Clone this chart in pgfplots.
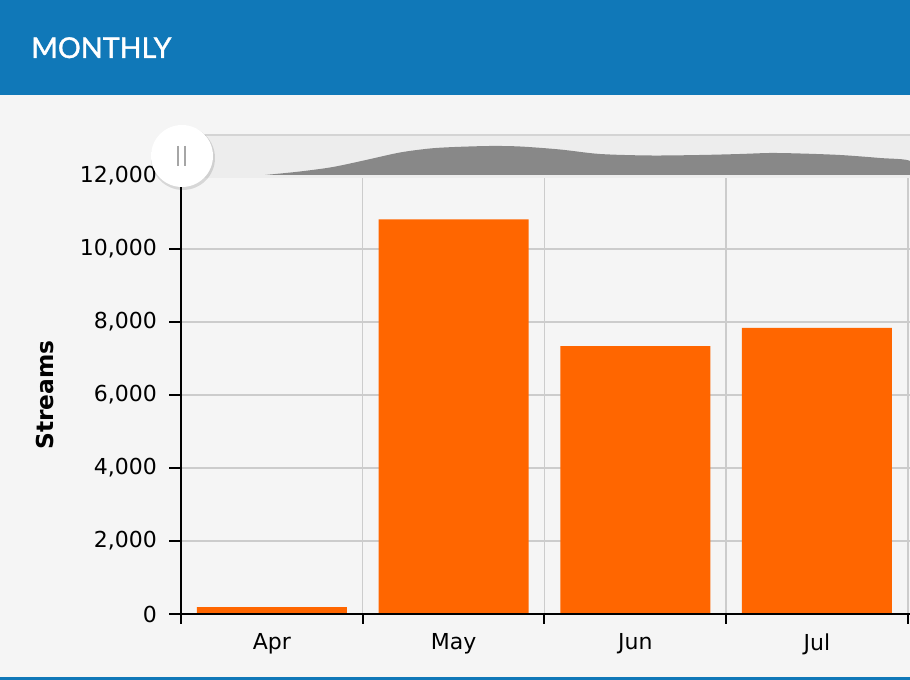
\documentclass[border=0pt]{standalone}
\usepackage{fontspec}
\setmainfont{DejaVu Sans}
\newfontfamily\headfont[FakeBold=1.2]{Lato}
\usepackage{pgfplots}
\pgfplotsset{compat=1.18}
\definecolor{hdr}{HTML}{1078B8}
\definecolor{bgc}{HTML}{F5F5F5}
\definecolor{barc}{HTML}{FF6600}
\definecolor{gridc}{HTML}{CCCCCC}
\definecolor{navc}{HTML}{888888}
\definecolor{navbg}{HTML}{EDEDED}
\definecolor{navline}{HTML}{D4D4D4}
\begin{document}
\begin{tikzpicture}
\useasboundingbox (0,0) rectangle (682.5pt,510pt);
\fill[bgc] (0,0) rectangle (682.5pt,510pt);
\fill[hdr] (0,438.75pt) rectangle (682.5pt,510pt);
\fill[hdr] (0,0) rectangle (682.5pt,2.25pt);
\node[anchor=base west, text=white, font=\headfont\fontsize{21.5}{26}\selectfont, inner sep=0pt] at (23.25pt,466.5pt) {MONTHLY};

\begin{axis}[
  at={(135.75pt,49.5pt)}, anchor=south west,
  scale only axis, width=546.75pt, height=328.5pt,
  xmin=-0.5, xmax=3.512, ymin=0, ymax=12000,
  ytick={0,2000,...,12000},
  xtick={0,1,2,3}, xticklabels={Apr,May,Jun,Jul},
  minor xtick={-0.5,0.5,1.5,2.5,3.5},
  major x tick style={draw=none},
  major tick length=9pt, minor tick length=7.5pt,
  tick align=outside, xtick pos=bottom, ytick pos=left,
  ymajorgrids, xminorgrids,
  major grid style={gridc, line width=1.1pt},
  minor grid style={gridc, line width=1.1pt},
  axis line style={draw=none},
  tick style={black, line width=1.5pt},
  ylabel={\bfseries Streams},
  ylabel style={font=\fontsize{17.5}{20}\selectfont, at={(axis description cs:-0.1866,0.5)}, anchor=center, rotate=0},
  ticklabel style={font=\fontsize{16.5}{19}\selectfont, text=black},
  yticklabel style={xshift=-5.5pt},
  xticklabel style={yshift=-2pt},
  /pgf/number format/assume math mode=true,
  /pgf/number format/1000 sep={,},
  scaled y ticks=false,
  clip=false,
]
\addplot[ybar, bar width=0.8255, bar shift=0pt, fill=barc, draw=none] coordinates {
  (0,190) (1,10810) (2,7340) (3,7840)
};
\draw[black, line width=1.5pt] (rel axis cs:0,0) -- (rel axis cs:1,0);
\draw[black, line width=1.5pt] (rel axis cs:0,0) -- (rel axis cs:0,1);
\end{axis}

\begin{axis}[
  at={(135.75pt,378.75pt)}, anchor=south west,
  scale only axis, width=546.75pt, height=30pt,
  xmin=181, xmax=910, ymin=0, ymax=40,
  hide axis, clip=false,
]
\fill[navbg] (axis cs:181,-3) rectangle (axis cs:910,40);
\draw[navline, line width=0.8pt] (axis cs:181,40) -- (axis cs:910,40);
\addplot[fill=navc, draw=none, smooth, tension=0.5] coordinates {
  (265,0) (300,3.5) (333,8) (366,15) (400,22.5) (430,26.5) (455,28)
  (490,29) (520,28.5) (560,25.5) (600,21) (650,19.5) (700,20)
  (740,21) (770,22) (800,21.5) (840,20) (880,17) (910,14) (910,0)
} \closedcycle;
\end{axis}

\fill[black, opacity=0.12] (137.25pt,391.5pt) circle (24pt);
\fill[white] (136.5pt,393pt) circle (23.25pt);
\draw[gray!70, line width=1.1pt] (133.5pt,400.5pt) -- (133.5pt,385.5pt);
\draw[gray!70, line width=1.1pt] (138.75pt,400.5pt) -- (138.75pt,385.5pt);
\end{tikzpicture}
\end{document}
